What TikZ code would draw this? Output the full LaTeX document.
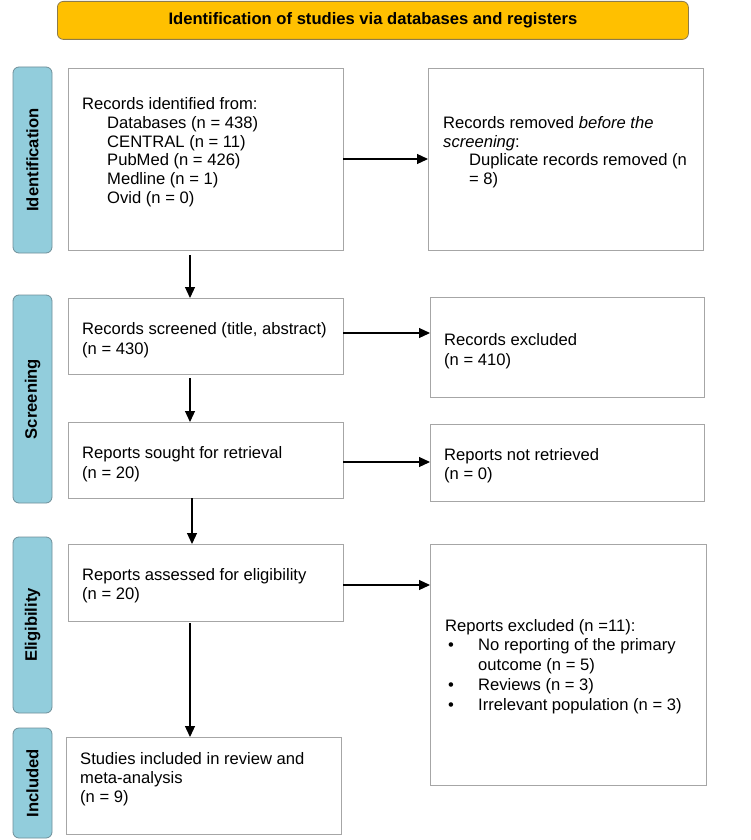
\documentclass[tikz,border=0pt]{standalone}
\usepackage{fontspec}
\setmainfont{Liberation Sans}
\usetikzlibrary{arrows.meta,calc}
\definecolor{gold}{HTML}{FFC000}
\definecolor{goldline}{HTML}{8C7B4C}
\definecolor{aqua}{HTML}{92CDDC}
\definecolor{aqualine}{HTML}{6F8F99}
\definecolor{boxline}{HTML}{A6A6A6}
\begin{document}
\begin{tikzpicture}[x=1pt,y=-1pt,
  box/.style={draw=boxline, line width=0.9pt, anchor=north west, inner sep=0pt, outer sep=0pt},
  phase/.style={draw=aqualine, fill=aqua, rounded corners=6pt, line width=0.8pt, anchor=north west, inner sep=0pt, outer sep=0pt},
  phasetext/.style={font=\fontsize{16.6}{19}\selectfont\bfseries, rotate=90, inner sep=0pt},
  txt/.style={anchor=north west, inner sep=0pt, align=left, font=\fontsize{16.6}{19.2}\selectfont},
  arr/.style={-{Triangle[length=11pt,width=10pt]}, line width=1.2pt, black}]
\useasboundingbox (0,0) rectangle (750,840);
\fill[white] (0,0) rectangle (750,840);

% title
\node[draw=goldline, fill=gold, rounded corners=6pt, line width=0.8pt, anchor=north west,
      minimum width=631pt, minimum height=38pt, inner sep=0pt,
      font=\fontsize{16.6}{19}\selectfont\bfseries] (title) at (57,1)
      {Identification of studies via databases and registers};

% phase labels
\node[phase, minimum width=39pt, minimum height=186pt] (p1) at (13,67) {};
\node[phasetext] (p1t) at (p1.center) {Identification};
\node[phase, minimum width=39pt, minimum height=208pt] (p2) at (13,295) {};
\node[phasetext] (p2t) at (p2.center) {Screening};
\node[phase, minimum width=39pt, minimum height=176pt] (p3) at (13,537) {};
\node[phasetext] (p3t) at (p3.center) {Eligibility};
\node[phase, minimum width=39pt, minimum height=110pt] (p4) at (13,728) {};
\node[phasetext] (p4t) at (p4.center) {Included};

% boxes
\node[box, minimum width=275pt, minimum height=182pt] (id) at (68,68) {};
\node[box, minimum width=275pt, minimum height=182pt] (rem) at (428,68) {};
\node[box, minimum width=275pt, minimum height=76pt] (scr) at (68,298) {};
\node[box, minimum width=274pt, minimum height=100pt] (exc) at (430,297) {};
\node[box, minimum width=275pt, minimum height=76pt] (sou) at (68,422) {};
\node[box, minimum width=274pt, minimum height=77pt] (nre) at (430,424) {};
\node[box, minimum width=275pt, minimum height=77pt] (ass) at (68,544) {};
\node[box, minimum width=276pt, minimum height=241pt] (rex) at (430,544) {};
\node[box, minimum width=275pt, minimum height=97pt] (inc) at (66,737) {};

% texts
\node[txt, font=\fontsize{16.6}{18.9}\selectfont] (idt) at (82,97) {Records identified from:\\
  \hspace*{25pt}Databases (n = 438)\\
  \hspace*{25pt}CENTRAL (n = 11)\\
  \hspace*{25pt}PubMed (n = 426)\\
  \hspace*{25pt}Medline (n = 1)\\
  \hspace*{25pt}Ovid (n = 0)};
\node[txt, font=\fontsize{16.6}{18.8}\selectfont] (remt) at (443,116) {Records removed \textit{before the}\\
  \textit{screening}:\\
  \hspace*{26pt}Duplicate records removed (n\\
  \hspace*{26pt}= 8)};
\node[txt, font=\fontsize{16.6}{20}\selectfont] (scrt) at (82,322) {Records screened (title, abstract)\\(n = 430)};
\node[txt, font=\fontsize{16.6}{20}\selectfont] (exct) at (444,333) {Records excluded\\(n = 410)};
\node[txt, font=\fontsize{16.6}{20}\selectfont] (sout) at (82,446) {Reports sought for retrieval\\(n = 20)};
\node[txt] (nret) at (444,448) {Reports not retrieved\\(n = 0)};
\node[txt] (asst) at (82,568) {Reports assessed for eligibility\\(n = 20)};
\node[txt] (inct) at (80,752) {Studies included in review and\\meta-analysis\\(n = 9)};
\node[txt, font=\fontsize{16.6}{19.7}\selectfont] (rext) at (445,619) {Reports excluded (n =11):\\
  \makebox[33pt][l]{\hspace*{3pt}•}No reporting of the primary\\
  \hspace*{33pt}outcome (n = 5)\\
  \makebox[33pt][l]{\hspace*{3pt}•}Reviews (n = 3)\\
  \makebox[33pt][l]{\hspace*{3pt}•}Irrelevant population (n = 3)};

% connectors
\coordinate (colx) at (190,0);
\coordinate (colxb) at (192,0);
\draw[arr] (id.east) -- (id.east -| rem.west);
\draw[arr] (scr.east) ++(0,-3) coordinate (se) -- (se -| exc.west);
\draw[arr] (sou.east) ++(0,2) coordinate (soe) -- (soe -| nre.west);
\draw[arr] (ass.east) ++(0,2.5) coordinate (ase) -- (ase -| rex.west);
\draw[arr, shorten <=5pt] (id.south -| colx) -- (scr.north -| colx);
\draw[arr, shorten <=4pt] (scr.south -| colx) -- (sou.north -| colx);
\draw[arr] (sou.south -| colxb) -- (ass.north -| colxb);
\draw[arr, shorten <=2pt] (ass.south -| colx) -- (inc.north -| colx);
\end{tikzpicture}
\end{document}
